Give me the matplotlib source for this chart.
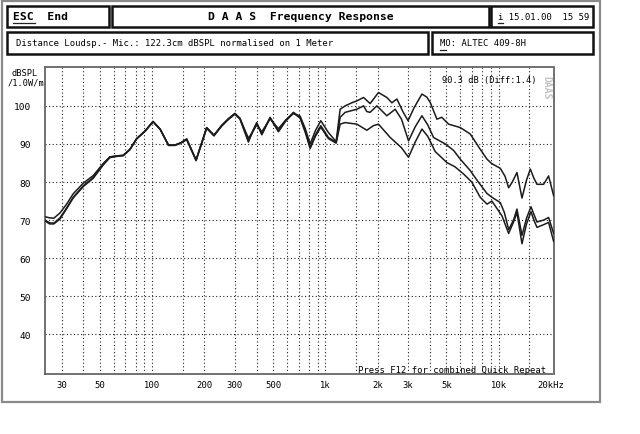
import matplotlib
matplotlib.use("Agg")
import matplotlib.pyplot as plt
from matplotlib.patches import Rectangle
from matplotlib.ticker import FixedLocator, NullFormatter

MONO = "DejaVu Sans Mono"

# shared low/mid band (curves nearly on top of each other)
F_COMMON = [24.0, 25.5, 27.0, 29.3, 32.0, 34.9, 39.9, 45.6, 52.1, 56.9, 63.6, 67.9,
            74.3, 81.2, 90.8, 101, 111, 124, 135, 146, 158, 179, 206, 227, 252, 275,
            300, 321, 340, 359, 380, 401, 429, 479, 535, 590, 653, 714, 765, 816,
            875, 940, 1040, 1153]
L_COMMON_TOP = [70.9, 70.6, 70.5, 71.9, 74.2, 76.9, 79.7, 81.7, 84.9, 86.6, 86.9, 87.0,
                88.6, 91.4, 93.4, 95.9, 93.9, 89.7, 89.7, 90.3, 91.3, 85.8, 94.3, 92.3, 94.9, 96.6,
                98.0, 96.7, 94.0, 91.5, 93.2, 95.0, 93.2, 96.6, 94.0, 96.3, 98.0, 97.3, 94.0, 90.0,
                93.5, 96.1, 93.0, 90.6]
L_COMMON_MID = [70.0, 69.3, 69.2, 70.6, 73.2, 76.0, 79.0, 81.2, 84.7, 86.6, 86.9, 87.0,
                88.6, 91.4, 93.4, 95.9, 93.9, 89.7, 89.7, 90.3, 91.3, 85.8, 94.3, 92.3, 94.9, 96.6,
                98.0, 96.7, 93.6, 90.8, 93.4, 95.6, 92.6, 97.0, 93.4, 96.2, 98.3, 97.0, 93.4, 89.1,
                92.4, 94.8, 91.7, 90.4]
L_COMMON_LOW = [69.8, 69.0, 69.0, 70.3, 73.0, 75.8, 78.8, 81.0, 84.5, 86.4, 86.8, 86.9,
                88.5, 91.3, 93.3, 95.8, 93.8, 89.6, 89.6, 90.2, 91.1, 85.6, 94.1, 92.1, 94.7, 96.4,
                97.8, 96.5, 93.4, 90.5, 93.2, 95.4, 92.4, 96.8, 93.2, 96.0, 98.1, 96.8, 93.0, 88.8,
                92.0, 94.4, 91.4, 90.2]

# upper band, curves split apart
F_TOP_HI = [1216, 1300, 1420, 1518, 1660, 1812, 2024, 2263, 2420, 2587, 2800, 3000,
            3250, 3609, 3850, 4029, 4404, 4700, 5142, 6009, 6863, 7834, 8570, 9155,
            10230, 10900, 11432, 12000, 12770, 13651, 14500, 15252, 16000, 16665,
            18200, 19450, 20800]
L_TOP_HI = [99.1, 100.0, 100.8, 101.3, 102.2, 100.6, 103.5, 102.2, 100.8, 101.8, 98.5, 96.1,
            99.5, 103.1, 102.3, 100.9, 96.5, 97.0, 95.2, 94.3, 92.6, 88.6, 86.0, 84.8,
            83.6, 81.5, 78.5, 80.0, 82.5, 75.8, 80.5, 83.4, 81.0, 79.4,
            79.4, 81.6, 76.4]

F_MID_HI = [1216, 1300, 1518, 1660, 1734, 1812, 1982, 2263, 2529, 2750, 3020, 3300,
            3609, 3900, 4210, 4918, 5500, 6009, 6863, 7500, 8570, 9155, 10230, 10800,
            11432, 12200, 12770, 13651, 14500, 15389, 16000, 16665, 18200, 19450, 20800]
L_MID_HI = [97.0, 98.3, 99.1, 100.0, 98.5, 98.3, 100.0, 97.4, 99.1, 96.5, 90.8, 94.5,
            97.4, 95.0, 91.7, 90.0, 88.3, 86.0, 83.0, 80.5, 77.0, 76.0, 74.6, 72.0,
            67.5, 70.0, 72.9, 66.0, 70.5, 73.5, 71.5, 69.5, 70.0, 70.7, 66.5]

F_LOW_HI = [1216, 1300, 1518, 1734, 1894, 2024, 2366, 2750, 3020, 3300, 3609, 3900,
            4305, 5032, 5600, 6281, 7000, 7834, 8570, 9155, 10467, 11432, 12200, 12770,
            13651, 14500, 15389, 16000, 16665, 18200, 19450, 20800]
L_LOW_HI = [95.2, 95.6, 95.2, 93.6, 94.8, 95.2, 91.7, 89.0, 86.5, 90.5, 93.9, 92.0,
            88.0, 85.1, 84.0, 82.1, 80.0, 76.0, 74.2, 75.0, 71.1, 66.5, 69.5, 72.0,
            63.8, 69.0, 72.2, 70.0, 68.1, 68.8, 69.4, 64.4]

X_TICKS = [30, 50, 100, 200, 300, 500, 1000, 2000, 3000, 5000, 10000, 20000]
X_TICK_LABELS = ["30", "50", "100", "200", "300", "500", "1k", "2k", "3k", "5k", "10k", "20kHz"]
X_GRID = [30, 40, 50, 60, 70, 80, 90, 100, 150, 200, 300, 400, 500, 600, 700, 800, 900,
          1000, 1500, 2000, 3000, 4000, 5000, 6000, 7000, 8000, 9000, 10000, 15000]
Y_TICKS = [40, 50, 60, 70, 80, 90, 100]

fig = plt.figure(figsize=(6.4, 4.35), dpi=100)
fig.patch.set_facecolor("white")

# main plot area, placed in pixel units of the 640x435 picture
L, R, T, B = 45, 554, 68, 375
ax = fig.add_axes([L / 640, 1 - B / 435, (R - L) / 640, (B - T) / 435])
ax.set_xscale("log")
ax.set_xlim(24.0, 20900)
ax.set_ylim(29.6, 110.2)

# dotted grid first, curves on top
dots = dict(color="#222", linestyle=(0, (1, 2.2)), linewidth=0.8, zorder=1)
for g in X_GRID:
    ax.axvline(g, **dots)
for g in Y_TICKS:
    ax.axhline(g, **dots)

curves = [
    (F_COMMON + F_TOP_HI, L_COMMON_TOP + L_TOP_HI),
    (F_COMMON + F_MID_HI, L_COMMON_MID + L_MID_HI),
    (F_COMMON + F_LOW_HI, L_COMMON_LOW + L_LOW_HI),
]
for f, lv in curves:
    ax.plot(f, lv, color="#1c1c1c", linewidth=1.1, solid_joinstyle="round", zorder=3)

ax.xaxis.set_major_locator(FixedLocator(X_TICKS))
ax.set_xticklabels(X_TICK_LABELS)
ax.xaxis.set_minor_formatter(NullFormatter())
ax.xaxis.set_minor_locator(FixedLocator([]))
ax.set_yticks(Y_TICKS)
ax.tick_params(which="both", length=0)
ax.tick_params(axis="x", pad=4, labelsize=6.4)
ax.tick_params(axis="y", pad=10, labelsize=6.8)
for lab in ax.get_xticklabels() + ax.get_yticklabels():
    lab.set_family(MONO)

for s in ax.spines.values():
    s.set_color("#666")
    s.set_linewidth(1.3)
    s.set_linestyle((0, (1, 1)))

# overlay for frame, header boxes and free text, in pixel coordinates
ov = fig.add_axes([0, 0, 1, 1], zorder=5)
ov.set_xlim(0, 640)
ov.set_ylim(435, 0)
ov.axis("off")
ov.patch.set_alpha(0)

ov.add_patch(Rectangle((2, 2), 598, 401, fill=False, edgecolor="#8a8a8a", linewidth=1.6))
boxes = [(7, 7, 109, 28), (112, 7, 489, 28), (491, 7, 593, 28),
         (7, 33, 428, 55), (432, 33, 593, 55)]
for x0, y0, x1, y1 in boxes:
    ov.add_patch(Rectangle((x0, y0), x1 - x0, y1 - y0, fill=False,
                           edgecolor="#111", linewidth=1.8))

ov.text(13, 17.5, "ESC  End", family=MONO, fontsize=8.2, fontweight="bold", va="center")
ov.plot([13, 35], [24, 24], color="#222", linewidth=0.9)
ov.text(300.5, 17.5, "D A A S  Frequency Response", family=MONO, fontsize=8.2,
        fontweight="bold", ha="center", va="center")
ov.text(498, 17.5, "i 15.01.00  15 59", family=MONO, fontsize=6.4, va="center")
ov.plot([498, 503], [24, 24], color="#222", linewidth=0.9)
ov.text(16, 44, "Distance Loudsp.- Mic.: 122.3cm dBSPL normalised on 1 Meter",
        family=MONO, fontsize=6.4, va="center")
ov.text(440, 44, "MO: ALTEC 409-8H", family=MONO, fontsize=6.4, va="center")
ov.plot([440, 446], [50.5, 50.5], color="#222", linewidth=0.9)

ov.text(25, 73, "dBSPL", family=MONO, fontsize=6.2, ha="center", va="center")
ov.text(26, 83, "/1.0W/m", family=MONO, fontsize=6.2, ha="center", va="center")

ov.text(442, 80, "90.3 dB (Diff:1.4)", family=MONO, fontsize=6.2, va="center")
ov.text(358, 371, "Press F12 for combined Quick Repeat", family=MONO, fontsize=6.4,
        va="center")
ov.text(546, 88, "DAAS", family=MONO, fontsize=7, color="#c4c4c4", rotation=270,
        ha="center", va="center", fontweight="bold")

fig.savefig("out.png", dpi=100)
